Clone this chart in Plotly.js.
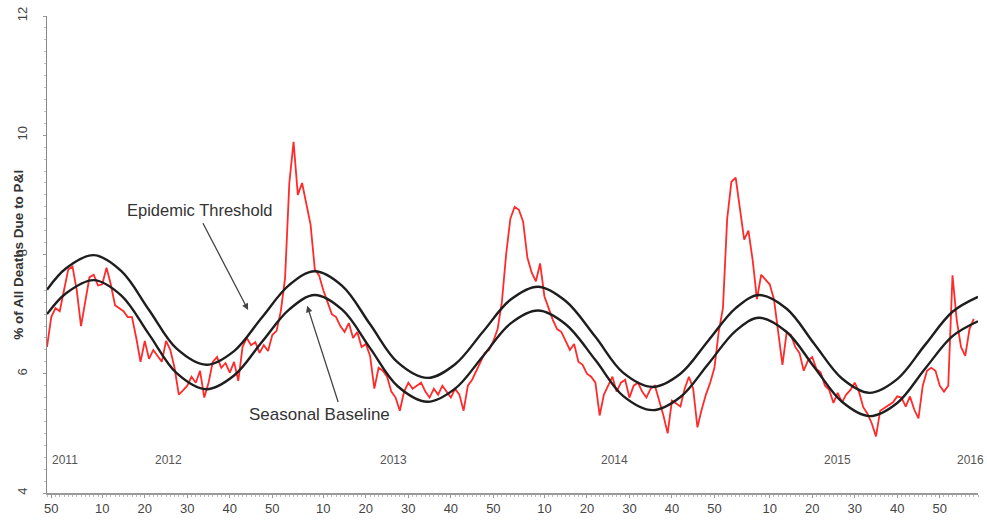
<!DOCTYPE html>
<html>
<head>
<meta charset="utf-8">
<script src="https://cdn.plot.ly/plotly-3.0.1.min.js"></script>
<style>html,body{margin:0;padding:0;background:#fff;}#chart{width:987px;height:525px;}</style>
</head>
<body>
<div id="chart"></div>
<script>
// Weekly % of all deaths due to P&I, starting 2011 week 49 (index 0)
const pctPI = [
  6.45, 6.95, 7.10, 7.05, 7.40, 7.75, 7.80, 7.40, 6.80, 7.20,
  7.62, 7.66, 7.48, 7.50, 7.78, 7.50, 7.15, 7.10, 7.05, 6.95,
  6.95, 6.60, 6.20, 6.55, 6.25, 6.40, 6.30, 6.20, 6.55, 6.40,
  6.10, 5.65, 5.72, 5.80, 5.95, 5.85, 6.05, 5.60, 5.85, 6.20,
  6.28, 6.10, 6.18, 6.02, 6.20, 5.88, 6.45, 6.60, 6.48, 6.53,
  6.35, 6.48, 6.38, 6.65, 6.72, 7.05, 7.60, 9.20, 9.89, 9.00,
  9.20, 8.85, 8.50, 7.75, 7.65, 7.40, 7.20, 7.00, 6.95, 6.80,
  6.70, 6.85, 6.60, 6.70, 6.45, 6.50, 6.30, 5.75, 6.10, 6.05,
  5.95, 5.70, 5.60, 5.38, 5.70, 5.85, 5.75, 5.80, 5.85, 5.70,
  5.60, 5.75, 5.65, 5.80, 5.70, 5.60, 5.75, 5.65, 5.38, 5.80,
  5.90, 6.05, 6.20, 6.35, 6.40, 6.55, 6.75, 7.20, 8.00, 8.60,
  8.80, 8.75, 8.55, 7.95, 7.70, 7.55, 7.85, 7.30, 7.10, 6.90,
  6.75, 6.70, 6.55, 6.40, 6.50, 6.20, 6.15, 6.00, 5.95, 5.85,
  5.30, 5.65, 5.80, 5.95, 5.70, 5.85, 5.90, 5.60, 5.80, 5.85,
  5.70, 5.60, 5.75, 5.80, 5.55, 5.30, 5.00, 5.55, 5.50, 5.45,
  5.75, 5.95, 5.75, 5.10, 5.40, 5.65, 5.85, 6.10, 6.70, 7.10,
  8.60, 9.22, 9.29, 8.80, 8.25, 8.40, 7.90, 7.25, 7.66, 7.58,
  7.50, 7.25, 6.68, 6.15, 6.70, 6.65, 6.45, 6.35, 6.05, 6.22,
  6.28, 6.08, 6.02, 5.80, 5.73, 5.51, 5.68, 5.52, 5.65, 5.73,
  5.85, 5.70, 5.44, 5.33, 5.17, 4.95, 5.38, 5.43, 5.47, 5.52,
  5.62, 5.60, 5.45, 5.62, 5.40, 5.25, 5.80, 6.05, 6.10, 6.05,
  5.80, 5.70, 5.80, 7.65, 6.90, 6.45, 6.30, 6.75, 6.92
];

// Sample weeks (index) where the threshold / baseline curves were read
const curveWeeks = [
  0, 4.5, 11, 17.5, 24, 30.5, 37.5, 44, 50.5, 57,
  63, 69.5, 76, 82.5, 89.5, 96, 102.5, 109, 115.5, 122,
  129, 135.5, 142.5, 149, 155.5, 162, 167.5, 174, 180.5, 187,
  193.5, 200, 206.5, 213, 219
];
const epidemicThreshold = [
  7.41, 7.77, 7.99, 7.72, 7.07, 6.42, 6.15, 6.38, 6.94, 7.49,
  7.72, 7.47, 6.83, 6.19, 5.93, 6.16, 6.70, 7.24, 7.46, 7.22,
  6.62, 6.02, 5.78, 6.00, 6.55, 7.10, 7.32, 7.09, 6.50, 5.92,
  5.68, 5.91, 6.48, 7.04, 7.29
];
const seasonalBaseline = [
  7.00, 7.35, 7.57, 7.31, 6.66, 6.01, 5.74, 5.97, 6.53, 7.08,
  7.32, 7.07, 6.43, 5.79, 5.53, 5.75, 6.29, 6.84, 7.06, 6.83,
  6.23, 5.63, 5.39, 5.61, 6.16, 6.72, 6.94, 6.70, 6.11, 5.53,
  5.29, 5.51, 6.08, 6.63, 6.88
];

// Week-of-year tick labels and their week index
const weekTickText = ['50','10','20','30','40','50','10','20','30','40','50','10','20','30','40','50','10','20','30','40','50'];
const weekTickIndex = [1, 13, 23, 33, 43, 53, 65, 75, 85, 95, 105, 117, 127, 137, 147, 157, 170, 180, 190, 200, 210];

// Year labels inside the plot
const yearLabels = ['2011','2012','2013','2014','2015','2016'];
const yearLabelIndex = [4.3, 28.5, 81.4, 133.6, 186, 217.2];

const yTickVals = [4, 6, 8, 10, 12];

const FONT = 'Liberation Sans, Arial, Helvetica, sans-serif';

const traces = [
  {
    y: pctPI, type: 'scatter', mode: 'lines',
    line: {color: '#ff2a2a', width: 1.8}, hoverinfo: 'skip'
  },
  {
    x: curveWeeks, y: epidemicThreshold, type: 'scatter', mode: 'lines',
    line: {color: '#1e1e1e', width: 2.4, shape: 'spline', smoothing: 1.0}, hoverinfo: 'skip'
  },
  {
    x: curveWeeks, y: seasonalBaseline, type: 'scatter', mode: 'lines',
    line: {color: '#1e1e1e', width: 2.4, shape: 'spline', smoothing: 1.0}, hoverinfo: 'skip'
  }
];

const annotations = [
  {xref: 'paper', yref: 'y', x: -0.031, y: 8.0, text: '% of All Deaths Due to P&amp;I',
   textangle: -90, showarrow: false, xanchor: 'center', yanchor: 'middle',
   font: {family: FONT, size: 13.5, color: '#333', weight: 'bold'}},
  {xref: 'x', yref: 'y', x: 36.1, y: 8.75, text: 'Epidemic Threshold', showarrow: false,
   font: {family: FONT, size: 16.5, color: '#333'}},
  {xref: 'x', yref: 'y', x: 64.2, y: 5.31, text: 'Seasonal Baseline', showarrow: false,
   font: {family: FONT, size: 17, color: '#333'}},
  {xref: 'x', yref: 'y', x: 47.3, y: 7.07, axref: 'x', ayref: 'y', ax: 36.5, ay: 8.55,
   text: '', showarrow: true, arrowhead: 2, arrowsize: 1, arrowwidth: 1.3, arrowcolor: '#444'},
  {xref: 'x', yref: 'y', x: 61.2, y: 7.14, axref: 'x', ayref: 'y', ax: 68.6, ay: 5.5,
   text: '', showarrow: true, arrowhead: 2, arrowsize: 1, arrowwidth: 1.3, arrowcolor: '#444'}
];
yearLabels.forEach((t, k) => {
  annotations.push({xref: 'x', yref: 'y', x: yearLabelIndex[k], y: 4.55, text: t, showarrow: false,
    font: {family: FONT, size: 12, color: '#555'}});
});

const layout = {
  width: 987, height: 525,
  margin: {l: 47, r: 9, t: 16, b: 32},
  paper_bgcolor: '#fff', plot_bgcolor: '#fff',
  showlegend: false,
  font: {family: FONT, size: 13, color: '#444'},
  xaxis: {
    range: [0, 219], tickmode: 'array', tickvals: weekTickIndex, ticktext: weekTickText,
    showgrid: false, zeroline: false, showline: true, linecolor: '#999', linewidth: 1.5,
    ticks: 'outside', ticklen: 3, tickcolor: '#999',
    tickfont: {family: FONT, size: 13, color: '#444'},
    minor: {tickmode: 'linear', tick0: 0, dtick: 1, ticks: 'outside', ticklen: 2, tickcolor: '#bbb', showgrid: false}
  },
  yaxis: {
    range: [4, 12], tickmode: 'array', tickvals: yTickVals, ticktext: yTickVals.map(String),
    tickangle: -90,
    showgrid: false, zeroline: false, showline: true, linecolor: '#888', linewidth: 1.5,
    ticks: 'outside', ticklen: 3, tickcolor: '#999', ticklabelstandoff: 10,
    tickfont: {family: FONT, size: 13, color: '#444'},
    minor: {tickmode: 'linear', tick0: 4, dtick: 0.2, ticks: 'outside', ticklen: 2, tickcolor: '#bbb', showgrid: false}
  },
  annotations: annotations
};

Plotly.newPlot('chart', traces, layout, {displayModeBar: false, staticPlot: true});
</script>
</body>
</html>
